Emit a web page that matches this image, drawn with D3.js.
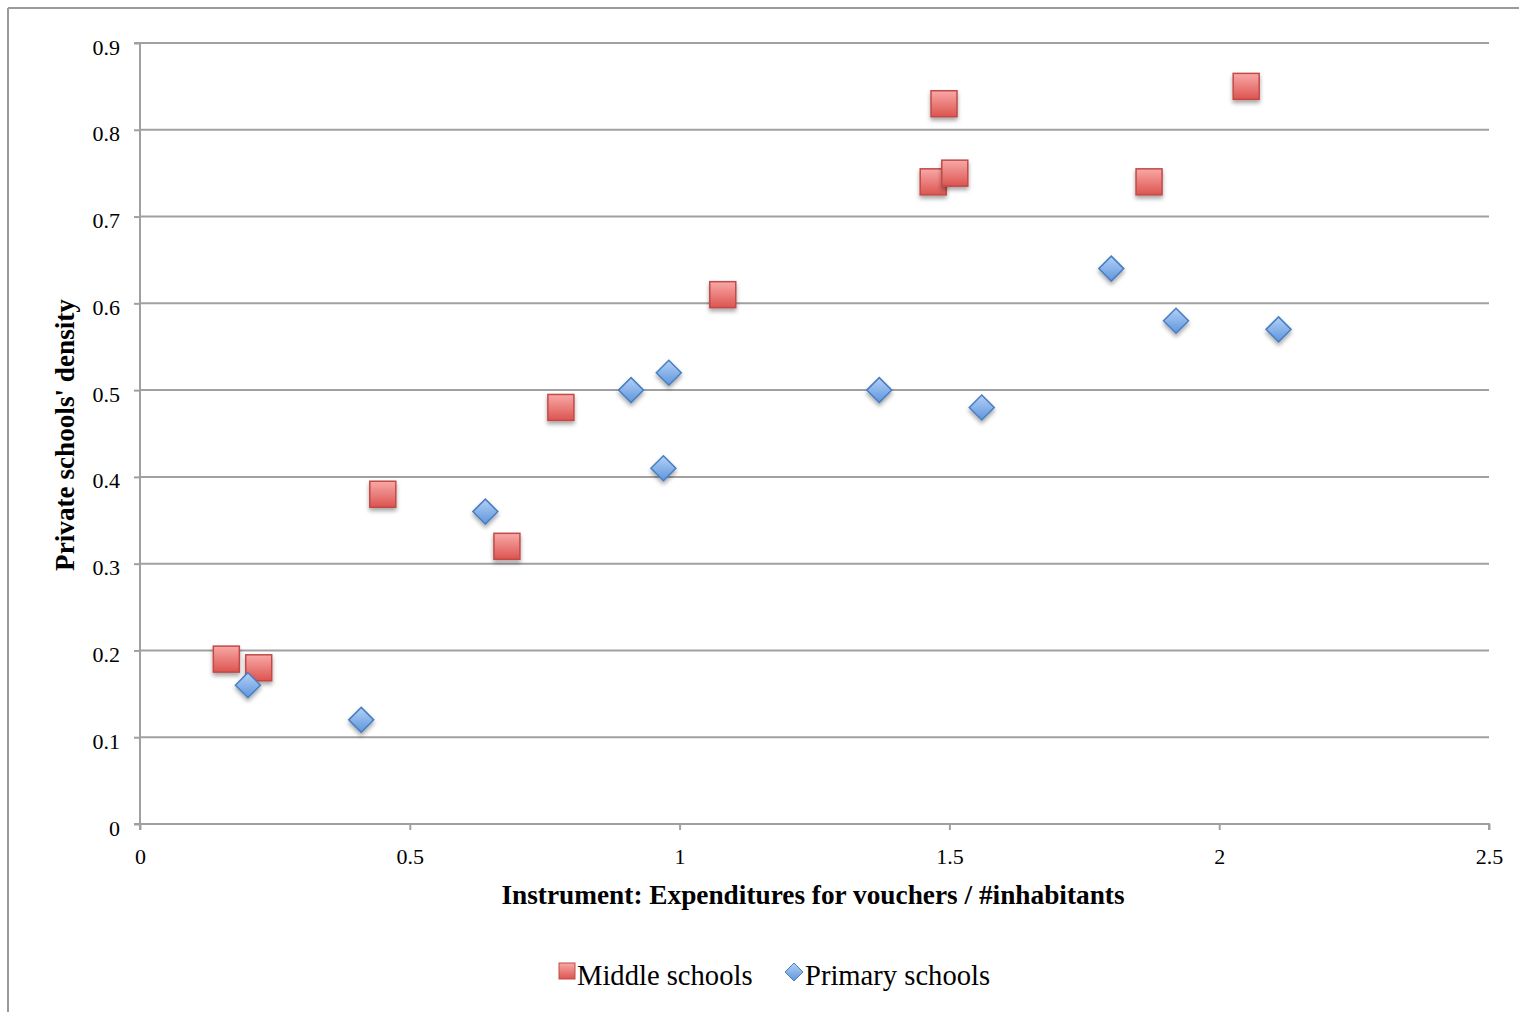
<!DOCTYPE html>
<html>
<head>
<meta charset="utf-8">
<script src="https://cdn.jsdelivr.net/npm/d3@7"></script>
<style>
  html, body { margin: 0; padding: 0; background: #fff; }
  svg { display: block; font-family: "Liberation Serif", "DejaVu Serif", serif; }
</style>
</head>
<body>
<svg id="chart" width="1519" height="1012"></svg>
<script>
// Middle schools: voucher expenditure per inhabitant vs private school density
const middleX = [0.16, 0.22, 0.45, 0.68, 0.78, 1.08, 1.47, 1.49, 1.51, 1.87, 2.05];
const middleY = [0.19, 0.18, 0.38, 0.32, 0.48, 0.61, 0.74, 0.83, 0.75, 0.74, 0.85];

// Primary schools
const primaryX = [0.20, 0.41, 0.64, 0.91, 0.97, 0.98, 1.37, 1.56, 1.80, 1.92, 2.11];
const primaryY = [0.16, 0.12, 0.36, 0.50, 0.41, 0.52, 0.50, 0.48, 0.64, 0.58, 0.57];

const xTicks = [0, 0.5, 1, 1.5, 2, 2.5];
const xTickLabels = ["0", "0.5", "1", "1.5", "2", "2.5"];
const yTicks = [0, 0.1, 0.2, 0.3, 0.4, 0.5, 0.6, 0.7, 0.8, 0.9];
const yTickLabels = ["0", "0.1", "0.2", "0.3", "0.4", "0.5", "0.6", "0.7", "0.8", "0.9"];

const seriesNames = ["Middle schools", "Primary schools"];

const svg = d3.select("#chart");
const plotLeft = 140, plotRight = 1489, plotTop = 43, plotBottom = 824;

const x = d3.scaleLinear().domain([0, 2.5]).range([plotLeft, plotRight]);
const y = d3.scaleLinear().domain([0, 0.9]).range([plotBottom, plotTop]);

// Defs: gradients and drop shadow
const defs = svg.append("defs");
const redGrad = defs.append("linearGradient").attr("id", "redGrad")
  .attr("x1", 0).attr("y1", 0).attr("x2", 0).attr("y2", 1);
redGrad.append("stop").attr("offset", "0%").attr("stop-color", "#f8a9a7");
redGrad.append("stop").attr("offset", "100%").attr("stop-color", "#dc5450");
const blueGrad = defs.append("linearGradient").attr("id", "blueGrad")
  .attr("x1", 0).attr("y1", 0).attr("x2", 0).attr("y2", 1);
blueGrad.append("stop").attr("offset", "0%").attr("stop-color", "#b3d1f7");
blueGrad.append("stop").attr("offset", "100%").attr("stop-color", "#5f95dc");
const shadow = defs.append("filter").attr("id", "shadow")
  .attr("x", "-50%").attr("y", "-50%").attr("width", "200%").attr("height", "200%");
shadow.append("feDropShadow").attr("dx", 0).attr("dy", 3).attr("stdDeviation", 2.2)
  .attr("flood-color", "#000").attr("flood-opacity", 0.35);

// Outer frame (top and left edges)
svg.append("line").attr("x1", 8).attr("x2", 1519).attr("y1", 8).attr("y2", 8)
  .attr("stroke", "#9a9a9a").attr("stroke-width", 2);
svg.append("line").attr("x1", 8).attr("x2", 8).attr("y1", 8).attr("y2", 1012)
  .attr("stroke", "#9a9a9a").attr("stroke-width", 2);

// Horizontal gridlines
svg.append("g").selectAll("line").data(yTicks.filter(d => d > 0)).join("line")
  .attr("x1", plotLeft).attr("x2", plotRight)
  .attr("y1", d => y(d)).attr("y2", d => y(d))
  .attr("stroke", "#a0a0a0").attr("stroke-width", 2);

// Y axis
const yAxis = d3.axisLeft(y).tickValues(yTicks).tickSize(6).tickPadding(14)
  .tickFormat((d, i) => yTickLabels[i]);
const gy = svg.append("g").attr("transform", `translate(${plotLeft},0)`).call(yAxis);
gy.select(".domain").attr("stroke", "#a0a0a0").attr("stroke-width", 2)
  .attr("d", `M-6,${plotTop}H0V${plotBottom}H-6`);
gy.selectAll(".tick line").attr("stroke", "#a0a0a0").attr("stroke-width", 2);
gy.selectAll(".tick text").attr("font-family", "Liberation Serif, serif")
  .attr("font-size", 22).attr("fill", "#000").attr("dy", "0.5em");

// X axis
const xAxis = d3.axisBottom(x).tickValues(xTicks).tickSize(6).tickPadding(18)
  .tickFormat((d, i) => xTickLabels[i]);
const gx = svg.append("g").attr("transform", `translate(0,${plotBottom})`).call(xAxis);
gx.select(".domain").attr("stroke", "#a0a0a0").attr("stroke-width", 2)
  .attr("d", `M${plotLeft},6V0H${plotRight}V6`);
gx.selectAll(".tick line").attr("stroke", "#a0a0a0").attr("stroke-width", 2);
gx.selectAll(".tick text").attr("font-family", "Liberation Serif, serif")
  .attr("font-size", 22).attr("fill", "#000");

// Axis titles
svg.append("text").attr("x", 813).attr("y", 904)
  .attr("text-anchor", "middle").attr("font-size", 27.3).attr("font-weight", "bold")
  .text("Instrument: Expenditures for vouchers / #inhabitants");
svg.append("text").attr("transform", `translate(74,435) rotate(-90)`)
  .attr("text-anchor", "middle").attr("font-size", 27.2).attr("font-weight", "bold")
  .text("Private schools' density");

// Markers
const sq = 26, dm = 12.5;
const squareData = middleX.map((v, i) => ({ x: v, y: middleY[i] }));
const diamondData = primaryX.map((v, i) => ({ x: v, y: primaryY[i] }));

svg.append("g").selectAll("rect").data(squareData).join("rect")
  .attr("x", d => x(d.x) - sq / 2).attr("y", d => y(d.y) - sq / 2)
  .attr("width", sq).attr("height", sq)
  .attr("fill", "url(#redGrad)").attr("stroke", "#c24a47").attr("stroke-width", 1.5)
  .attr("filter", "url(#shadow)");

svg.append("g").selectAll("path").data(diamondData).join("path")
  .attr("d", d => {
    const cx = x(d.x), cy = y(d.y);
    return `M${cx},${cy - dm}L${cx + dm},${cy}L${cx},${cy + dm}L${cx - dm},${cy}Z`;
  })
  .attr("fill", "url(#blueGrad)").attr("stroke", "#4a7fc1").attr("stroke-width", 1.5)
  .attr("filter", "url(#shadow)");

// Legend
const lg = svg.append("g");
lg.append("rect").attr("x", 559).attr("y", 963).attr("width", 16).attr("height", 16)
  .attr("fill", "url(#redGrad)").attr("stroke", "#c24a47").attr("stroke-width", 1);
lg.append("text").attr("x", 577).attr("y", 985).attr("font-size", 28.6)
  .text(seriesNames[0]);
lg.append("path").attr("d", "M794,963L803,972L794,981L785,972Z")
  .attr("fill", "url(#blueGrad)").attr("stroke", "#4a7fc1").attr("stroke-width", 1);
lg.append("text").attr("x", 805).attr("y", 985).attr("font-size", 28.6)
  .text(seriesNames[1]);
</script>
</body>
</html>
